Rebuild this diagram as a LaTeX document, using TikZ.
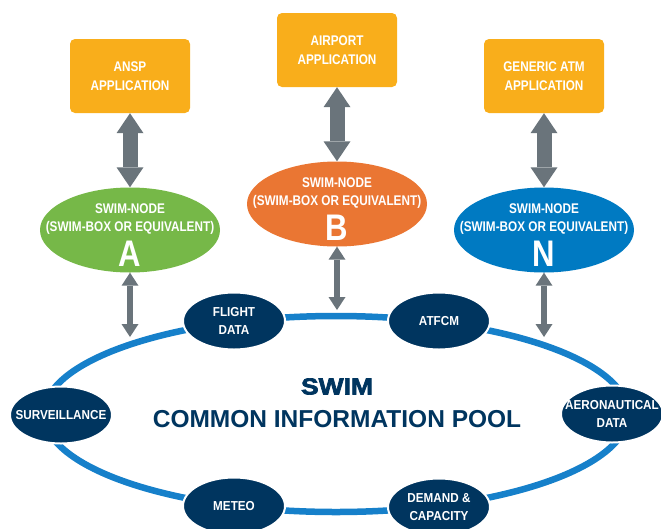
\documentclass[tikz,border=0pt]{standalone}
\usepackage{fontspec}
\setmainfont{Liberation Sans}
\newfontfamily\narrowfont{Liberation Sans}[FakeStretch=0.84]
\newfontfamily\infofont{Liberation Sans}[FakeStretch=0.9]
\newfontfamily\widefont{Liberation Sans}[FakeStretch=1.15,FakeBold=3]
\definecolor{apporange}{RGB}{249,174,27}
\definecolor{swimgreen}{RGB}{118,184,72}
\definecolor{swimorange}{RGB}{234,118,51}
\definecolor{swimblue}{RGB}{0,122,194}
\definecolor{poolnavy}{RGB}{0,53,95}
\definecolor{ringblue}{RGB}{22,128,202}
\definecolor{arrowgray}{RGB}{106,116,123}
\usepackage{tikz}
\usetikzlibrary{arrows.meta,shapes.geometric}

\tikzset{
    appbox/.style={rectangle, rounded corners=5pt, fill=apporange, minimum width=120pt, minimum height=74pt,
        text=white, align=center, font=\narrowfont\bfseries\fontsize{14}{19}\selectfont},
    swimnode/.style={ellipse, minimum width=180pt, minimum height=85pt, inner sep=0pt},
    nodetext/.style={text=white, align=center, font=\narrowfont\bfseries\fontsize{14}{18}\selectfont},
    infonode/.style={ellipse, fill=poolnavy, draw=white, line width=2pt, minimum width=102pt, minimum height=57pt, inner sep=0pt},
    infotext/.style={text=white, align=center, font=\infofont\bfseries\fontsize{13}{18}\selectfont},
    bigarrow/.style={arrowgray, line width=15pt,
        {Triangle[width=27pt,length=20pt,line width=0pt]}-{Triangle[width=27pt,length=20pt,line width=0pt]}},
    smallarrow/.style={arrowgray, line width=6pt,
        {Triangle[width=17pt,length=13pt,line width=0pt]}-{Triangle[width=17pt,length=13pt,line width=0pt]}},
}

\begin{document}
\begin{tikzpicture}[x=1pt, y=-1pt]
    \useasboundingbox (0,0) rectangle (661,528);

    % Applications
    \node[appbox] (ansp) at (130,76) {ANSP\\APPLICATION};
    \node[appbox] (airport) at (337,50) {AIRPORT\\APPLICATION};
    \node[appbox] (generic) at (544,76) {GENERIC ATM\\APPLICATION};

    % SWIM nodes
    \node[swimnode, fill=swimgreen, label={[nodetext, yshift=-5pt]center:{SWIM-NODE\\(SWIM-BOX OR EQUIVALENT)\\[5pt]{\fontsize{37}{37}\selectfont A}}}] (nodeA) at (130,230) {};
    \node[swimnode, fill=swimorange, label={[nodetext, yshift=-5pt]center:{SWIM-NODE\\(SWIM-BOX OR EQUIVALENT)\\[5pt]{\fontsize{37}{37}\selectfont B}}}] (nodeB) at (337,204) {};
    \node[swimnode, fill=swimblue, label={[nodetext, yshift=-5pt]center:{SWIM-NODE\\(SWIM-BOX OR EQUIVALENT)\\[5pt]{\fontsize{37}{37}\selectfont N}}}] (nodeN) at (544,230) {};

    \draw[bigarrow] (ansp) -- (nodeA);
    \draw[bigarrow] (airport) -- (nodeB);
    \draw[bigarrow] (generic) -- (nodeN);

    % Common information pool
    \draw[ringblue, line width=6.5pt] (336,414) ellipse [x radius=292, y radius=98];
    \node[text=poolnavy, align=center, font=\bfseries\fontsize{24.5}{33}\selectfont] (pool) at (337,403)
        {{\widefont\fontsize{23}{23}\selectfont SWIM}\\COMMON INFORMATION POOL};

    \coordinate (ringA) at (130,337);
    \coordinate (ringB) at (337,310);
    \coordinate (ringN) at (544,337);
    \draw[smallarrow] (nodeA) -- (ringA);
    \draw[smallarrow] (nodeB) -- (ringB);
    \draw[smallarrow] (nodeN) -- (ringN);

    % Information domains
    \node[infonode, label={[infotext]center:{FLIGHT\\DATA}}] (flight) at (234,321) {};
    \node[infonode, label={[infotext]center:ATFCM}] (atfcm) at (439,321) {};
    \node[infonode, label={[infotext]center:SURVEILLANCE}] (surv) at (61,415) {};
    \node[infonode, label={[infotext]center:{AERONAUTICAL\\DATA}}] (aero) at (612,414) {};
    \node[infonode, label={[infotext]center:METEO}] (meteo) at (234,506) {};
    \node[infonode, label={[infotext]center:{DEMAND \&\\CAPACITY}}] (demand) at (439,507) {};
\end{tikzpicture}
\end{document}
